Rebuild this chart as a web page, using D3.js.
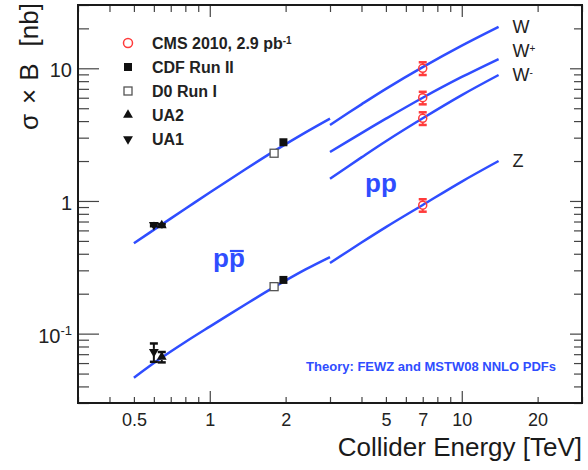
<!DOCTYPE html>
<html>
<head>
<meta charset="utf-8">
<script src="https://cdn.jsdelivr.net/npm/d3@7"></script>
<style>
  body { margin: 0; background: #fff; }
  svg { font-family: "Liberation Sans", Arial, sans-serif; }
</style>
</head>
<body>
<div id="chart"></div>
<script>
// theory curves (FEWZ, MSTW08 NNLO), sigma x B in nb
const energyPPbar = [0.5, 0.63, 0.8, 1.0, 1.4, 1.8, 2.4, 3.0];
const wPPbar = [0.48, 0.645, 0.874, 1.157, 1.757, 2.375, 3.29, 4.18];
const zPPbar = [0.0465, 0.064, 0.0865, 0.113, 0.168, 0.224, 0.305, 0.378];

const energyPP = [3, 4, 5, 7, 10, 14];
const wPP = [3.74, 5.35, 7.0, 10.2, 14.8, 20.5];
const wPlusPP = [2.34, 3.25, 4.17, 6.0, 8.6, 11.75];
const wMinusPP = [1.47, 2.13, 2.82, 4.2, 6.28, 8.9];
const zPP = [0.341, 0.486, 0.635, 0.933, 1.40, 2.0];

// measurements
const cmsEnergy = 7;
const cmsValues = [10.0, 6.0, 4.2, 0.93];
const cmsErrors = [1.1, 0.65, 0.46, 0.1];
const cdfEnergy = 1.96;
const cdfValues = [2.77, 0.254];
const d0Energy = 1.8;
const d0Values = [2.29, 0.226];
const ua2Energy = 0.645;
const ua2Values = [0.655, 0.0667];
const ua2Errors = [0.015, 0.006];
const ua1Energy = 0.6;
const ua1Values = [0.66, 0.0728];
const ua1Errors = [0.015, 0.0115];

// axes
const xTicks = [0.3, 0.4, 0.5, 0.6, 0.7, 0.8, 0.9, 1, 2, 3, 4, 5, 6, 7, 8, 9, 10, 20, 30];
const xMajor = [1, 10];
const xLabels = [0.5, 1, 2, 5, 7, 10, 20];
const yTicks = [0.03, 0.04, 0.05, 0.06, 0.07, 0.08, 0.09, 0.1, 0.2, 0.3, 0.4, 0.5, 0.6, 0.7, 0.8, 0.9,
                1, 2, 3, 4, 5, 6, 7, 8, 9, 10, 20, 30];
const yMajor = [0.1, 1, 10];

const legendLabels = ['CMS 2010, 2.9 pb', 'CDF Run II', 'D0 Run I', 'UA2', 'UA1'];
const curveLabels = ['W', 'W', 'W', 'Z'];
const curveSups = ['', '+', '-', ''];

const width = 588, height = 470;
const margin = {top: 5, right: 6, bottom: 67, left: 78};
const x0 = margin.left, x1 = width - margin.right;
const y0 = height - margin.bottom, y1 = margin.top;

const blue = '#2f4dff';
const red = '#ff3b3b';

const svg = d3.select('#chart').append('svg')
    .attr('width', width)
    .attr('height', height);

const x = d3.scaleLog().domain([0.3, 30]).range([x0, x1]);
const y = d3.scaleLog().domain([0.03, 30]).range([y0, y1]);

function styleAxis(g) {
    g.attr('font-family', null).attr('font-size', null);
    g.select('.domain').remove();
    g.selectAll('.tick line').attr('stroke', '#444').attr('stroke-width', 1.2);
    g.selectAll('.tick text').attr('fill', '#222');
}

// bottom
svg.append('g')
    .attr('transform', `translate(0,${y0})`)
    .call(d3.axisBottom(x).tickValues(xTicks).tickSize(0).tickPadding(10)
        .tickFormat(d => xLabels.includes(d) ? String(d) : ''))
    .call(styleAxis)
    .call(g => g.selectAll('.tick line').attr('y2', d => xMajor.includes(d) ? -12 : -6))
    .call(g => g.selectAll('.tick text').attr('font-size', 18));

// top
svg.append('g')
    .attr('transform', `translate(0,${y1})`)
    .call(d3.axisTop(x).tickValues(xTicks).tickSize(0).tickFormat(''))
    .call(styleAxis)
    .call(g => g.selectAll('.tick line').attr('y2', d => xMajor.includes(d) ? 12 : 7));

// left
svg.append('g')
    .attr('transform', `translate(${x0},0)`)
    .call(d3.axisLeft(y).tickValues(yTicks).tickSize(0).tickPadding(6).tickFormat(''))
    .call(styleAxis)
    .call(g => g.selectAll('.tick line').attr('x2', d => yMajor.includes(d) ? 21 : 11))
    .call(g => g.selectAll('.tick text')
        .attr('font-size', 20)
        .attr('dy', '0.42em')
        .each(function(d) {
            const t = d3.select(this);
            if (d === 10) t.text('10');
            else if (d === 1) t.text('1');
            else if (d === 0.1) {
                t.text('10');
                t.append('tspan').attr('dy', '-0.55em').attr('font-size', 13).text('-1');
            }
        }));

// right
svg.append('g')
    .attr('transform', `translate(${x1},0)`)
    .call(d3.axisRight(y).tickValues(yTicks).tickSize(0).tickFormat(''))
    .call(styleAxis)
    .call(g => g.selectAll('.tick line').attr('x2', d => yMajor.includes(d) ? -12 : -8));

// frame
svg.append('rect')
    .attr('x', x0).attr('y', y1)
    .attr('width', x1 - x0).attr('height', y0 - y1)
    .attr('fill', 'none')
    .attr('stroke', '#1a1a1a')
    .attr('stroke-width', 2);

// axis titles
svg.append('text')
    .attr('x', x1).attr('y', 456)
    .attr('text-anchor', 'end')
    .attr('font-size', 26)
    .attr('fill', '#1a1a1a')
    .text('Collider Energy [TeV]');

const yTitle = svg.append('text')
    .attr('transform', `translate(38,130) rotate(-90)`)
    .attr('font-size', 26)
    .attr('fill', '#1a1a1a');
yTitle.append('tspan').text('σ');
yTitle.append('tspan').attr('dx', 10).text('×');
yTitle.append('tspan').attr('dx', 8).text('B');
yTitle.append('tspan').attr('dx', 17).text('[nb]');

// theory curves
const line = d3.line()
    .x(d => x(d[0]))
    .y(d => y(d[1]))
    .curve(d3.curveCatmullRom.alpha(0.5));

const curves = [
    d3.zip(energyPPbar, wPPbar),
    d3.zip(energyPPbar, zPPbar),
    d3.zip(energyPP, wPP),
    d3.zip(energyPP, wPlusPP),
    d3.zip(energyPP, wMinusPP),
    d3.zip(energyPP, zPP)
];

svg.append('g')
    .selectAll('path')
    .data(curves)
    .join('path')
    .attr('d', line)
    .attr('fill', 'none')
    .attr('stroke', blue)
    .attr('stroke-width', 2.5);

// curve labels
const ppEnds = [wPP, wPlusPP, wMinusPP, zPP].map(v => v[v.length - 1]);
const labelShift = [0, -8, 0, -1];
curveLabels.forEach((lab, i) => {
    const t = svg.append('text')
        .attr('x', x(energyPP[energyPP.length - 1]) + 14)
        .attr('y', y(ppEnds[i]) + labelShift[i])
        .attr('dy', '0.36em')
        .attr('font-size', 18)
        .attr('fill', '#222')
        .text(lab);
    if (curveSups[i]) {
        t.append('tspan').attr('dy', '-0.5em').attr('font-size', 10).text(curveSups[i]);
    }
});

// error bars helper
function errorBar(g, xv, v, e, color, gap) {
    const cx = x(xv);
    const top = y(v + e), bot = y(v - e), cy = y(v);
    g.append('line').attr('x1', cx).attr('x2', cx).attr('y1', top).attr('y2', cy - gap)
        .attr('stroke', color).attr('stroke-width', 2);
    g.append('line').attr('x1', cx).attr('x2', cx).attr('y1', cy + gap).attr('y2', bot)
        .attr('stroke', color).attr('stroke-width', 2);
    [top, bot].forEach(yy => g.append('line')
        .attr('x1', cx - 4).attr('x2', cx + 4).attr('y1', yy).attr('y2', yy)
        .attr('stroke', color).attr('stroke-width', 2.5));
}

const marks = svg.append('g');

// UA1 / UA2
ua1Values.forEach((v, i) => errorBar(marks, ua1Energy, v, ua1Errors[i], '#111', 3));
ua2Values.forEach((v, i) => errorBar(marks, ua2Energy, v, ua2Errors[i], '#111', 3));

const triUp = d3.symbol(d3.symbolTriangle, 42)();
marks.selectAll('.ua2')
    .data(ua2Values)
    .join('path')
    .attr('class', 'ua2')
    .attr('d', triUp)
    .attr('transform', d => `translate(${x(ua2Energy)},${y(d)})`)
    .attr('fill', '#111');

marks.selectAll('.ua1')
    .data(ua1Values)
    .join('path')
    .attr('class', 'ua1')
    .attr('d', triUp)
    .attr('transform', d => `translate(${x(ua1Energy)},${y(d)}) rotate(180)`)
    .attr('fill', '#111');

// D0 Run I
marks.selectAll('.d0')
    .data(d0Values)
    .join('rect')
    .attr('class', 'd0')
    .attr('x', x(d0Energy) - 4).attr('y', d => y(d) - 4)
    .attr('width', 8).attr('height', 8)
    .attr('fill', '#fff')
    .attr('stroke', '#555')
    .attr('stroke-width', 1.3);

// CDF Run II
marks.selectAll('.cdf')
    .data(cdfValues)
    .join('rect')
    .attr('class', 'cdf')
    .attr('x', x(cdfEnergy) - 4).attr('y', d => y(d) - 4)
    .attr('width', 8).attr('height', 8)
    .attr('fill', '#111');

// CMS
cmsValues.forEach((v, i) => errorBar(marks, cmsEnergy, v, cmsErrors[i], red, 4));
marks.selectAll('.cms')
    .data(cmsValues)
    .join('circle')
    .attr('class', 'cms')
    .attr('cx', x(cmsEnergy)).attr('cy', d => y(d))
    .attr('r', 4)
    .attr('fill', 'none')
    .attr('stroke', red)
    .attr('stroke-width', 1.5);

// legend
const legend = svg.append('g').attr('transform', 'translate(128,43)');
const rowH = 24;
legendLabels.forEach((lab, i) => {
    const row = legend.append('g').attr('transform', `translate(0,${i * rowH})`);
    if (i === 0) {
        row.append('circle').attr('r', 4.5).attr('fill', 'none')
            .attr('stroke', red).attr('stroke-width', 1.5);
    } else if (i === 1) {
        row.append('rect').attr('x', -4).attr('y', -4).attr('width', 8).attr('height', 8).attr('fill', '#111');
    } else if (i === 2) {
        row.append('rect').attr('x', -4).attr('y', -4).attr('width', 8).attr('height', 8)
            .attr('fill', '#fff').attr('stroke', '#555').attr('stroke-width', 1.3);
    } else if (i === 3) {
        row.append('path').attr('d', triUp).attr('fill', '#111');
    } else {
        row.append('path').attr('d', triUp).attr('transform', 'rotate(180)').attr('fill', '#111');
    }
    const t = row.append('text')
        .attr('x', 24)
        .attr('dy', '0.36em')
        .attr('font-size', 16)
        .attr('font-weight', 'bold')
        .attr('fill', '#222')
        .text(lab);
    if (i === 0) t.append('tspan').attr('dy', '-0.5em').attr('font-size', 10).text('-1');
});

// collider labels
svg.append('text')
    .attr('x', 365).attr('y', 192)
    .attr('font-size', 26).attr('font-weight', 'bold')
    .attr('fill', blue)
    .text('pp');

const ppbar = svg.append('text')
    .attr('x', 213).attr('y', 267)
    .attr('font-size', 26).attr('font-weight', 'bold')
    .attr('fill', blue)
    .text('pp');
const el = ppbar.node();
const bx0 = el.getStartPositionOfChar(1).x;
const bx1 = el.getEndPositionOfChar(1).x;
svg.append('line')
    .attr('x1', bx0 + 1).attr('x2', bx1 - 1)
    .attr('y1', 251).attr('y2', 251)
    .attr('stroke', blue).attr('stroke-width', 2.2);

svg.append('text')
    .attr('x', 556).attr('y', 371)
    .attr('text-anchor', 'end')
    .attr('font-size', 13).attr('font-weight', 'bold')
    .attr('fill', blue)
    .text('Theory: FEWZ and MSTW08 NNLO PDFs');
</script>
</body>
</html>
